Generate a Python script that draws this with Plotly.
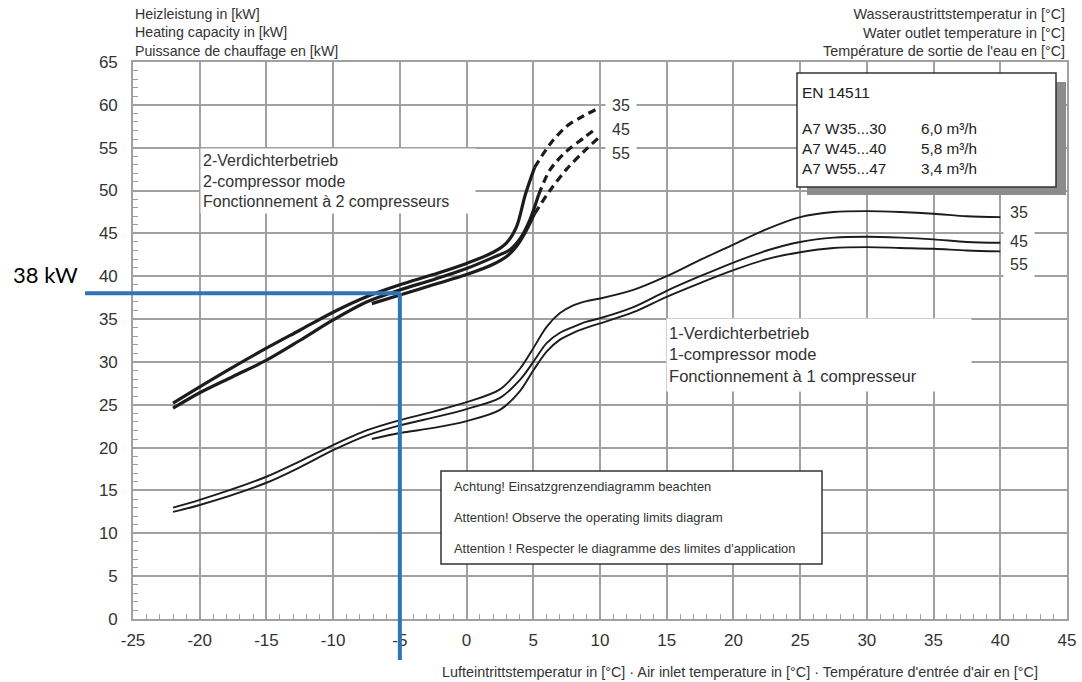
import plotly.graph_objects as go

# ---------------- data ----------------
X_TICKS = list(range(-25, 50, 5))
Y_TICKS = list(range(0, 70, 5))
X_TICKTEXT = [str(v) for v in X_TICKS]
Y_TICKTEXT = [str(v) for v in Y_TICKS]

# 2-compressor mode (solid part)
x_2c_35 = [-22, -20, -17.5, -15, -12.5, -10, -7.5, -5, -2.5, 0, 2, 3, 3.75, 4.4, 5.1]
y_2c_35 = [25.2, 27.1, 29.4, 31.6, 33.7, 35.8, 37.6, 39.0, 40.2, 41.5, 42.8, 43.9, 45.8, 49.5, 52.7]
x_2c_45 = [-22, -20, -17.5, -15, -12.5, -10, -7.5, -5, -2.5, 0, 2, 3.25, 4.1, 4.75, 5.4]
y_2c_45 = [24.6, 26.4, 28.3, 30.2, 32.5, 34.9, 37.0, 38.4, 39.6, 40.9, 42.2, 43.1, 44.6, 46.6, 49.5]
x_2c_55 = [-7.1, -5, -2.5, 0, 2, 3, 3.75, 4.5, 5.1]
y_2c_55 = [36.8, 37.8, 39.0, 40.2, 41.4, 42.3, 43.5, 45.4, 47.3]

# 2-compressor mode (dashed extension)
x_2c_35_d = [5.1, 6.25, 7.5, 8.75, 10]
y_2c_35_d = [52.7, 55.4, 57.5, 58.7, 59.7]
x_2c_45_d = [5.4, 6.25, 7.5, 8.75, 9.75]
y_2c_45_d = [49.5, 52.4, 54.6, 56.1, 57.3]
x_2c_55_d = [5.1, 6.25, 7.5, 8.75, 10]
y_2c_55_d = [47.3, 50.0, 52.5, 54.5, 56.3]

# 1-compressor mode
x_1c_35 = [-22, -20, -15, -12.5, -10, -7.5, -5, -2.5, 0, 2.5, 4, 5, 6, 7, 8, 9, 10,
           12.5, 15, 17.5, 20, 22.5, 25, 27.5, 30, 32.5, 35, 37.5, 40]
y_1c_35 = [13.0, 13.9, 16.6, 18.4, 20.3, 22.0, 23.2, 24.2, 25.3, 26.8, 29.2, 31.6, 34.1, 35.7,
           36.6, 37.1, 37.4, 38.4, 40.0, 41.9, 43.7, 45.5, 46.9, 47.5, 47.6, 47.5, 47.3, 47.0, 46.9]
x_1c_45 = [-22, -20, -15, -12.5, -10, -7.5, -5, -2.5, 0, 2.5, 4, 5, 6, 7, 8, 9, 10,
           12.5, 15, 17.5, 20, 22.5, 25, 27.5, 30, 32.5, 35, 37.5, 40]
y_1c_45 = [12.5, 13.3, 15.9, 17.7, 19.7, 21.4, 22.6, 23.5, 24.5, 25.8, 27.9, 30.0, 32.2, 33.4,
           34.1, 34.7, 35.1, 36.4, 38.3, 40.0, 41.6, 43.0, 44.0, 44.5, 44.6, 44.5, 44.3, 44.0, 43.9]
x_1c_55 = [-7.1, -5, -2.5, 0, 2.5, 4, 5, 6, 7, 8, 9, 10,
           12.5, 15, 17.5, 20, 22.5, 25, 27.5, 30, 32.5, 35, 37.5, 40]
y_1c_55 = [21.0, 21.7, 22.3, 23.1, 24.4, 26.6, 29.0, 31.2, 32.6, 33.4, 34.0, 34.5,
           35.8, 37.6, 39.2, 40.7, 42.0, 42.8, 43.3, 43.4, 43.3, 43.2, 43.0, 42.9]

# labels
curve_labels = ["35", "45", "55"]
label_y_2c = [59.9, 57.1, 54.3]
label_y_1c = [47.4, 44.0, 41.4]
marker_temp = -5
marker_kw = 38

# ---------------- layout helpers ----------------
W, H = 1082, 682
L, R, T, B = 133, 15, 62, 63
PW = W - L - R
PH = H - T - B
X_RANGE = [-25, 45]
Y_RANGE = [0, 65]


def px(xp):
    return (xp - L) / PW


def py(yp):
    return (H - B - yp) / PH


FONT = "Liberation Sans, Arial, sans-serif"
TXT = "#333333"
LINE = "#1c1c1c"
GRID = "#a0a0a0"
BLUE = "#2E75B6"

fig = go.Figure()


def add_curve(x, y, width, dash="solid"):
    fig.add_trace(go.Scatter(
        x=x, y=y, mode="lines",
        line=dict(color=LINE, width=width, shape="spline", smoothing=0.9, dash=dash),
        hoverinfo="skip", showlegend=False))


for xs, ys in [(x_2c_35, y_2c_35), (x_2c_45, y_2c_45), (x_2c_55, y_2c_55)]:
    add_curve(xs, ys, 3.2)
for xs, ys in [(x_2c_35_d, y_2c_35_d), (x_2c_45_d, y_2c_45_d), (x_2c_55_d, y_2c_55_d)]:
    add_curve(xs, ys, 3.2, dash="8px,5px")
for xs, ys in [(x_1c_35, y_1c_35), (x_1c_45, y_1c_45), (x_1c_55, y_1c_55)]:
    add_curve(xs, ys, 1.9)

annotations = []

# axis titles
annotations.append(dict(
    x=0, y=py(4), xref="paper", yref="paper", xanchor="left", yanchor="top",
    text="Heizleistung in [kW]<br>Heating capacity in [kW]<br>Puissance de chauffage en [kW]",
    align="left", showarrow=False, font=dict(family=FONT, size=14.2, color=TXT)))
annotations.append(dict(
    x=1, y=py(4), xref="paper", yref="paper", xanchor="right", yanchor="top",
    text="Wasseraustrittstemperatur in [°C]<br>Water outlet temperature in [°C]<br>Température de sortie de l'eau en [°C]",
    align="right", showarrow=False, font=dict(family=FONT, size=14.4, color=TXT)))
annotations.append(dict(
    x=px(1040), y=py(672), xref="paper", yref="paper", xanchor="right", yanchor="middle",
    text="Lufteintrittstemperatur in [°C] · Air inlet temperature in [°C] · Température d'entrée d'air en [°C]",
    showarrow=False, font=dict(family=FONT, size=14.4, color=TXT)))

# mode texts
annotations.append(dict(
    x=px(200), y=py(148), xref="paper", yref="paper", xanchor="left", yanchor="top",
    text="2-Verdichterbetrieb<br>2-compressor mode<br>Fonctionnement à 2 compresseurs",
    align="left", valign="middle", width=270, height=60, borderpad=2, bgcolor="white",
    showarrow=False, font=dict(family=FONT, size=16, color=TXT)))
annotations.append(dict(
    x=px(666), y=py(318), xref="paper", yref="paper", xanchor="left", yanchor="top",
    text="1-Verdichterbetrieb<br>1-compressor mode<br>Fonctionnement à 1 compresseur",
    align="left", valign="middle", width=300, height=68, borderpad=2, bgcolor="white",
    showarrow=False, font=dict(family=FONT, size=16.6, color=TXT)))

# warning box text
warn_lines = ["Achtung! Einsatzgrenzendiagramm beachten",
              "Attention! Observe the operating limits diagram",
              "Attention ! Respecter le diagramme des limites d'application"]
for txt, yp in zip(warn_lines, [486, 517, 548]):
    annotations.append(dict(
        x=px(452), y=py(yp), xref="paper", yref="paper", xanchor="left", yanchor="middle",
        text=txt, showarrow=False, font=dict(family=FONT, size=12.9, color=TXT)))

# EN box texts
annotations.append(dict(
    x=px(800), y=py(93), xref="paper", yref="paper", xanchor="left", yanchor="middle",
    text="EN 14511", showarrow=False, font=dict(family=FONT, size=15.5, color="#222")))
annotations.append(dict(
    x=px(800), y=py(118), xref="paper", yref="paper", xanchor="left", yanchor="top",
    text="A7 W35...30<br>A7 W45...40<br>A7 W55...47", align="left", showarrow=False,
    font=dict(family=FONT, size=15.3, color="#222")))
annotations.append(dict(
    x=px(919), y=py(118), xref="paper", yref="paper", xanchor="left", yanchor="top",
    text="6,0 m³/h<br>5,8 m³/h<br>3,4 m³/h", align="left", showarrow=False,
    font=dict(family=FONT, size=15.3, color="#222")))

# curve labels
for lab, yy in zip(curve_labels, label_y_2c):
    annotations.append(dict(
        x=10, y=yy, xref="x", yref="y", xanchor="left", yanchor="middle", xshift=5,
        text=lab, showarrow=False, bgcolor="white", borderpad=6,
        font=dict(family=FONT, size=16, color=TXT)))
for lab, yy in zip(curve_labels, label_y_1c):
    annotations.append(dict(
        x=40, y=yy, xref="x", yref="y", xanchor="left", yanchor="middle", xshift=3,
        text=lab, showarrow=False, bgcolor="white", borderpad=6,
        font=dict(family=FONT, size=16, color=TXT)))

# 38 kW label
annotations.append(dict(
    x=px(11), y=marker_kw + 2.2, xref="paper", yref="y", xanchor="left", yanchor="middle",
    text=f"{marker_kw} kW", showarrow=False,
    font=dict(family="Lato, Open Sans, sans-serif", size=22, color="black")))

x_frac = (marker_temp - X_RANGE[0]) / (X_RANGE[1] - X_RANGE[0])
y_frac = (marker_kw - Y_RANGE[0]) / (Y_RANGE[1] - Y_RANGE[0])

shapes = [
    # warning box
    dict(type="rect", xref="paper", yref="paper", x0=px(441), x1=px(822), y0=py(564), y1=py(471),
         fillcolor="white", line=dict(color="#333", width=1.5), layer="above"),
    # EN box shadow
    dict(type="rect", xref="paper", yref="paper", x0=px(807), x1=px(1066), y0=py(195), y1=py(82),
         fillcolor="#8c8c8c", line=dict(width=0), layer="above"),
    # EN box
    dict(type="rect", xref="paper", yref="paper", x0=px(797), x1=px(1056), y0=py(187), y1=py(73),
         fillcolor="white", line=dict(color="#333", width=1.5), layer="above"),
    # blue marker lines
    dict(type="line", xref="paper", yref="y", x0=px(85), x1=x_frac, y0=marker_kw, y1=marker_kw,
         line=dict(color=BLUE, width=4), layer="above"),
    dict(type="line", xref="x", yref="paper", x0=marker_temp, x1=marker_temp, y0=y_frac, y1=py(660),
         line=dict(color=BLUE, width=4), layer="above"),
]

axis_common = dict(
    showgrid=True, gridcolor=GRID, gridwidth=1.5,
    showline=True, linecolor=GRID, linewidth=1.6, mirror=True,
    zeroline=False, ticks="inside", ticklen=5, tickcolor=GRID,
    tickfont=dict(family=FONT, size=17, color=TXT),
    minor=dict(dtick=1, ticks="inside", ticklen=5, tickcolor=GRID, tickwidth=1, showgrid=False),
)

fig.update_layout(
    width=W, height=H,
    margin=dict(l=L, r=R, t=T, b=B, autoexpand=False),
    paper_bgcolor="white", plot_bgcolor="white",
    xaxis=dict(range=X_RANGE, tickmode="array", tickvals=X_TICKS, ticktext=X_TICKTEXT,
               ticklabelstandoff=5, **axis_common),
    yaxis=dict(range=Y_RANGE, tickmode="array", tickvals=Y_TICKS, ticktext=Y_TICKTEXT,
               ticklabelstandoff=10, **axis_common),
    annotations=annotations, shapes=shapes, showlegend=False,
)

fig.write_html("out.html")
